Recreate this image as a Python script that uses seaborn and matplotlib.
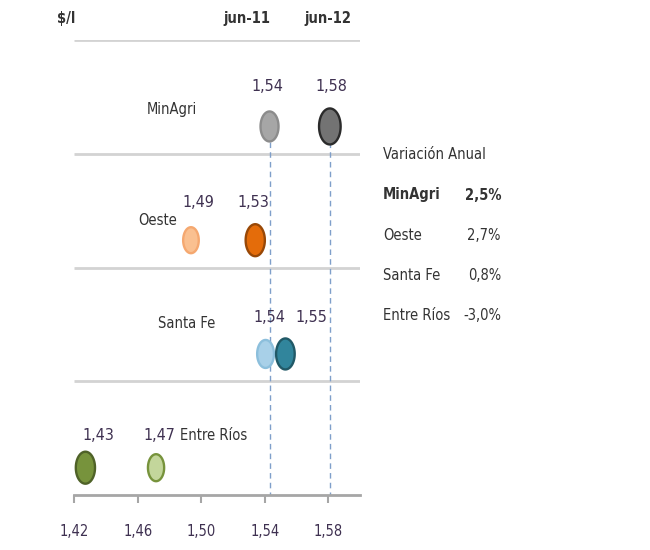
import numpy as np
import pandas as pd
import matplotlib
matplotlib.use("Agg")
import matplotlib.pyplot as plt
import seaborn as sns
from matplotlib.path import Path

# ---------------- data ----------------
regions = ["MinAgri", "Oeste", "Santa Fe", "Entre Ríos"]
periods = ["jun-11", "jun-12"]
jun11 = [1.543, 1.4935, 1.5405, 1.4715]
jun12 = [1.581, 1.534, 1.553, 1.427]
var_anual = [2.5, 2.7, 0.8, -3.0]
xticks = [1.42, 1.46, 1.50, 1.54, 1.58]
unit_label = "$/l"
table_title = "Variación Anual"

# ---------------- styles ----------------
light_fill = ["#a6a6a6", "#fac090", "#a8d0e8", "#c3d69b"]
light_edge = ["#8c8c8c", "#f5a870", "#8cbfdc", "#77933c"]
dark_fill = ["#737373", "#e46c0a", "#31859c", "#77933c"]
dark_edge = ["#2b2b2b", "#984807", "#215967", "#4f6228"]
light_h_px = [30, 26, 28, 27]
dark_h_px = [36, 32, 31, 32]
light_off = [(-2, -40), (7, -38), (4, -36), (3, -32)]
dark_off = [(2, -40), (-2, -38), (26, -36), (13, -32)]
row_lab_pos = [(1.4815, 0.61), (1.4728, 1.59), (1.491, 2.49), (1.508, 3.48)]
point_band = 0.76

TXT = "#333333"
VAL = "#3f3151"

sns.set_theme(style="white")
plt.rcParams["font.family"] = ["DejaVu Sans"]
plt.rcParams["font.stretch"] = "condensed"

fig = plt.figure(figsize=(6.5, 5.5), dpi=100)
ax = fig.add_axes([74.3 / 650, 55 / 550, 285.7 / 650, 455 / 550])

rows = []
for i, r in enumerate(regions):
    rows.append(dict(region=r, period=periods[0], value=jun11[i], y=i + point_band,
                     key=f"{r}|{periods[0]}", fc=light_fill[i], ec=light_edge[i],
                     s=(light_h_px[i] * 0.72) ** 2, off=light_off[i]))
    rows.append(dict(region=r, period=periods[1], value=jun12[i], y=i + point_band,
                     key=f"{r}|{periods[1]}", fc=dark_fill[i], ec=dark_edge[i],
                     s=(dark_h_px[i] * 0.72) ** 2, off=dark_off[i]))
df = pd.DataFrame(rows)

t = np.linspace(0, 2 * np.pi, 80)
ell = Path(np.column_stack([0.6 * np.cos(t), np.sin(t)]), closed=True)

ax.hlines([0, 1, 2, 3], 1.42, 1.60, colors="#d3d3d3", lw=2, zorder=1)
ax.vlines([jun11[0], jun12[0]], 0.9, 4, colors="#7f9fca", lw=1,
          linestyles=(0, (4, 3)), zorder=1)

sns.scatterplot(data=df, x="value", y="y", hue="key",
                palette=dict(zip(df["key"], df["fc"])),
                marker=ell, s=df["s"].values, edgecolor=list(df["ec"]),
                linewidth=1.7, legend=False, ax=ax, zorder=3)

for _, rw in df.iterrows():
    ax.annotate(f"{rw['value']:.2f}".replace(".", ","), (rw["value"], rw["y"]),
                xytext=(rw["off"][0] * 0.72, -rw["off"][1] * 0.72),
                textcoords="offset points", ha="center", va="center",
                fontsize=11.5, color=VAL)

for r, (px, py) in zip(regions, row_lab_pos):
    ax.text(px, py, r, ha="center", va="center", fontsize=10.5, color=TXT)

ax.set_xlim(1.42, 1.60)
ax.set_ylim(4, 0)
ax.set_xticks(xticks)
ax.set_xticklabels([f"{v:.2f}".replace(".", ",") for v in xticks])
ax.set_yticks([])
ax.set_xlabel("")
ax.set_ylabel("")
for sp in ["top", "left", "right"]:
    ax.spines[sp].set_visible(False)
ax.spines["bottom"].set_color("#a6a6a6")
ax.spines["bottom"].set_linewidth(2)
ax.tick_params(axis="x", direction="out", length=6, width=1.5, color="#a6a6a6",
               labelsize=10.5, labelcolor=VAL, pad=15, bottom=True)

fig.text(57 / 650, 1 - 19 / 550, unit_label, ha="left", va="center",
         fontsize=10.5, color=TXT, fontweight="semibold")
fig.text(247 / 650, 1 - 19 / 550, periods[0], ha="center", va="center",
         fontsize=10.5, color=TXT, fontweight="semibold")
fig.text(328 / 650, 1 - 19 / 550, periods[1], ha="center", va="center",
         fontsize=10.5, color=TXT, fontweight="semibold")

fig.text(383 / 650, 1 - 155 / 550, table_title, ha="left", va="center",
         fontsize=10.5, color=TXT)
row_y = [195, 236, 276, 315]
for i, (r, v) in enumerate(zip(regions, var_anual)):
    w = "bold" if i == 0 else "normal"
    fig.text(383 / 650, 1 - row_y[i] / 550, r, ha="left", va="center",
             fontsize=10.5, color=TXT, fontweight=w)
    fig.text(501 / 650, 1 - row_y[i] / 550, f"{v:.1f}%".replace(".", ","),
             ha="right", va="center", fontsize=10.5, color=TXT, fontweight=w)

fig.savefig("out.png", dpi=100)
